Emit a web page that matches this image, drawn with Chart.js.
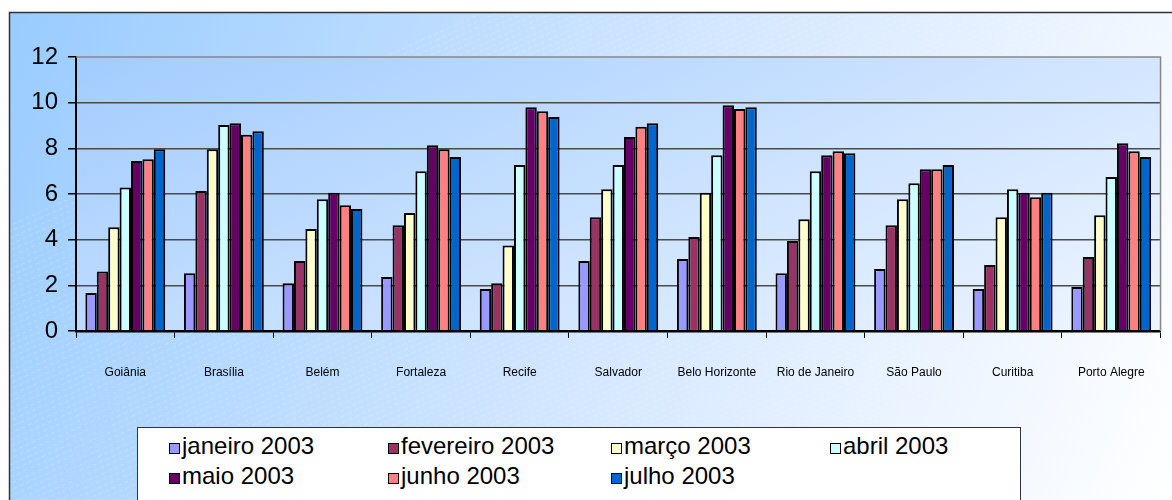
<!DOCTYPE html>
<html>
<head>
<meta charset="utf-8">
<script src="https://cdn.jsdelivr.net/npm/chart.js@4/dist/chart.umd.min.js"></script>
<style>
  body { margin: 0; background: #fff; }
  #wrap { position: relative; width: 1172px; height: 500px; overflow: hidden; }
  #legend {
    position: absolute; left: 137px; top: 427px; width: 884px; height: 90px;
    background: #fff; border: 1px solid #333; box-sizing: border-box;
    font-family: "Liberation Sans", Arial, sans-serif; font-size: 24px; color: #000;
  }
  .item { position: absolute; display: flex; align-items: center; white-space: nowrap; height: 28px; }
  .box { width: 9px; height: 9px; border: 1px solid #000; margin-right: 2px; margin-top: 4px; }
</style>
</head>
<body>
<div id="wrap">
  <canvas id="chart" width="1172" height="500"></canvas>
  <div id="legend"></div>
</div>
<script>
const cities = ["Goiânia", "Brasília", "Belém", "Fortaleza", "Recife", "Salvador",
  "Belo Horizonte", "Rio de Janeiro", "São Paulo", "Curitiba", "Porto Alegre"];
const months = ["janeiro 2003", "fevereiro 2003", "março 2003", "abril 2003",
  "maio 2003", "junho 2003", "julho 2003"];

const janeiro   = [1.66, 2.53, 2.09, 2.37, 1.84, 3.07, 3.15, 2.53, 2.72, 1.84, 1.93];
const fevereiro = [2.61, 6.13, 3.07, 4.63, 2.09, 4.98, 4.12, 3.94, 4.63, 2.89, 3.24];
const marco     = [4.54, 7.96, 4.47, 5.17, 3.75, 6.21, 6.05, 4.89, 5.77, 4.98, 5.07];
const abril     = [6.29, 9.02, 5.77, 7.00, 7.27, 7.27, 7.70, 7.00, 6.47, 6.21, 6.75];
const maio      = [7.45, 9.10, 6.05, 8.13, 9.80, 8.50, 9.89, 7.70, 7.08, 6.05, 8.22];
const junho     = [7.52, 8.59, 5.51, 7.96, 9.62, 8.94, 9.72, 7.87, 7.08, 5.86, 7.87];
const julho     = [7.96, 8.75, 5.34, 7.62, 9.37, 9.10, 9.80, 7.78, 7.27, 6.05, 7.62];

const series = [janeiro, fevereiro, marco, abril, maio, junho, julho];
const colors = ["#9999FF", "#993366", "#FFFFCC", "#CCFFFF", "#660066", "#FF8080", "#0066CC"];

// background of the whole chart + plot area, drawn before everything
const backdrop = {
  id: "backdrop",
  beforeDraw(chart) {
    const ctx = chart.ctx;
    const a = chart.chartArea;
    ctx.save();
    let g = ctx.createLinearGradient(9, 12, 1172, 500);
    g.addColorStop(0, "#99CCFF");
    g.addColorStop(0.55, "#D6E8FF");
    g.addColorStop(1, "#FFFFFF");
    ctx.fillStyle = g;
    ctx.fillRect(9, 12, 1163, 488);
    // faint diagonal hatching
    ctx.strokeStyle = "rgba(255,255,255,0.18)";
    ctx.lineWidth = 1;
    ctx.setLineDash([4, 3]);
    ctx.beginPath();
    ctx.rect(9, 12, 1163, 488);
    ctx.clip();
    for (let x = -600; x < 1200; x += 14) {
      ctx.moveTo(x, 500);
      ctx.lineTo(x + 1200, -40);
    }
    ctx.stroke();
    ctx.setLineDash([]);
    ctx.restore();

    ctx.save();
    g = ctx.createLinearGradient(a.left, a.top, a.left + 300, a.bottom + 400);
    g.addColorStop(0, "#A2CCFF");
    g.addColorStop(1, "#F4F8FF");
    ctx.fillStyle = g;
    ctx.fillRect(a.left, a.top, a.right - a.left, a.bottom - a.top);
    ctx.restore();

    ctx.save();
    ctx.strokeStyle = "#333";
    ctx.lineWidth = 1.5;
    ctx.beginPath();
    ctx.moveTo(9.5, 500);
    ctx.lineTo(9.5, 12.5);
    ctx.lineTo(1172, 12.5);
    ctx.stroke();
    ctx.restore();
  },
  afterDatasetsDraw(chart) {
    const ctx = chart.ctx;
    const a = chart.chartArea;
    ctx.save();
    ctx.strokeStyle = "#888";
    ctx.lineWidth = 1.5;
    ctx.beginPath();
    ctx.moveTo(a.left, a.top);
    ctx.lineTo(a.right, a.top);
    ctx.lineTo(a.right, a.bottom);
    ctx.stroke();
    ctx.restore();
  }
};

const ctx = document.getElementById("chart").getContext("2d");

const chart = new Chart(ctx, {
  type: "bar",
  data: {
    labels: cities,
    datasets: series.map((s, i) => ({
      label: months[i],
      data: s,
      backgroundColor: colors[i],
      borderColor: "#000",
      borderWidth: 2,
      categoryPercentage: 0.81,
      barPercentage: 1
    }))
  },
  options: {
    responsive: false,
    animation: false,
    layout: { padding: { top: 57, right: 9, left: 0, bottom: 0 } },
    plugins: { legend: { display: false }, tooltip: { enabled: false } },
    scales: {
      x: {
        afterFit: s => { s.height = 169; },
        grid: { drawOnChartArea: false, drawTicks: true, tickLength: 7, color: "#000", lineWidth: 1 },
        border: { color: "#000", width: 2.5 },
        ticks: {
          padding: 27, color: "#000", maxRotation: 0, autoSkip: false,
          font: { family: "Liberation Sans", size: 12 }
        }
      },
      y: {
        min: 0, max: 12,
        afterFit: s => { s.width = 76; },
        grid: {
          color: ctx => ctx.tick && ctx.tick.value === 12 ? "rgba(0,0,0,0)" : "#4a4a4a",
          lineWidth: 1.5, tickLength: 8, tickColor: "#000"
        },
        border: { color: "#000", width: 2 },
        ticks: {
          stepSize: 2, padding: 10, color: "#000",
          font: { family: "Liberation Sans", size: 24 }
        }
      }
    }
  },
  plugins: [backdrop]
});

// legend: 4 columns, built from the datasets
const legend = document.getElementById("legend");
const colX = [31, 250, 473, 692];
chart.data.datasets.forEach((ds, i) => {
  const item = document.createElement("div");
  item.className = "item";
  item.style.left = colX[i % 4] + "px";
  item.style.top = (4 + Math.floor(i / 4) * 30) + "px";
  const box = document.createElement("span");
  box.className = "box";
  box.style.background = ds.backgroundColor;
  const txt = document.createElement("span");
  txt.textContent = ds.label;
  item.appendChild(box);
  item.appendChild(txt);
  legend.appendChild(item);
});
</script>
</body>
</html>
